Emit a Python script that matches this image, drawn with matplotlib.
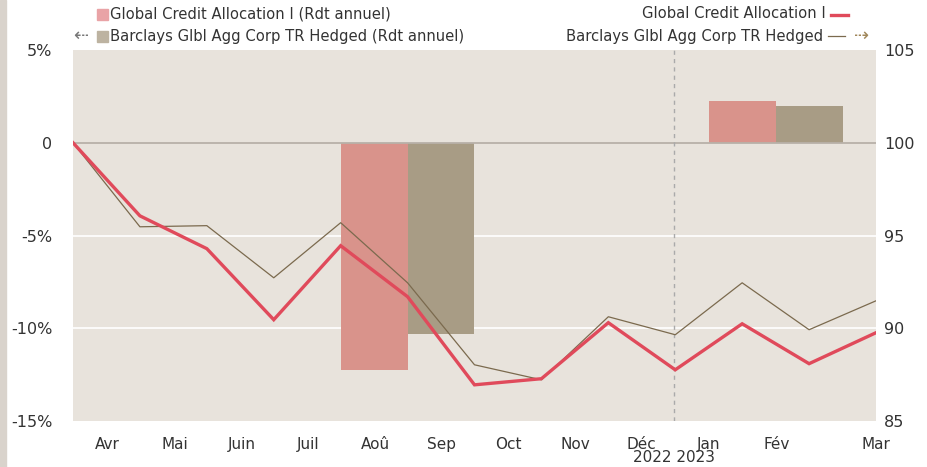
import matplotlib
matplotlib.use("Agg")
import matplotlib.pyplot as plt
from matplotlib.patches import Rectangle
from matplotlib.lines import Line2D

# ---------------- data ----------------
month_labels = ["Avr", "Mai", "Juin", "Juil", "Aoû", "Sep", "Oct", "Nov", "Déc", "Jan", "Fév", "Mar"]
month_label_pos = [0.52, 1.52, 2.52, 3.52, 4.52, 5.51, 6.51, 7.50, 8.50, 9.50, 10.51, 12.0]
year_labels = ["2022", "2023"]
year_boundary = 8.98

fund_name = "Global Credit Allocation I"
bench_name = "Barclays Glbl Agg Corp TR Hedged"

# monthly index (base 100), right axis
fund_index = [100, 96.06, 94.29, 90.46, 94.45, 91.70, 86.95, 87.28, 90.30, 87.76, 90.24, 88.09, 89.76]
bench_index = [100, 95.47, 95.53, 92.72, 95.69, 92.45, 88.03, 87.22, 90.62, 89.65, 92.45, 89.92, 91.48]

# annual returns (%), left axis
annual_period_pos = [4.5, 10.0]
fund_annual = [-12.25, 2.26]
bench_annual = [-10.3, 1.99]

# ---------------- style ----------------
BG = "#e8e3dc"
RED_LINE = "#e04a5b"
RED_BAR = "#d9938b"
BROWN_BAR = "#a89c85"
BROWN_LINE = "#7b6a4e"
TXT = "#333333"

W, H = 927, 467
fig = plt.figure(figsize=(W / 100, H / 100), dpi=100)
fig.patch.set_facecolor("white")

def fx(px):
    return px / W

def fy(py):
    return 1 - py / H

L, R, T, B = 73, 876, 50, 421
ax = fig.add_axes([fx(L), fy(B), fx(R) - fx(L), fy(T) - fy(B)])
ax.set_facecolor(BG)
ax.set_xlim(0, 12)
ax.set_ylim(-15, 5)
for s in ax.spines.values():
    s.set_visible(False)

# grid
for g in [-5, -10]:
    ax.axhline(g, color="white", lw=1.2, zorder=1)

# bars
bw = 1.0
ax.bar([p - bw / 2 for p in annual_period_pos], fund_annual, width=bw, align="edge",
       color=RED_BAR, zorder=2)
ax.bar([p + bw / 2 for p in annual_period_pos], bench_annual, width=bw, align="edge",
       color=BROWN_BAR, zorder=2)

ax.axhline(0, color="#b8b1a8", lw=1.3, zorder=3)
ax.axvline(year_boundary, color="#aaaaaa", lw=1.0, ls=(0, (3, 3)), zorder=3)

ax.set_yticks([5, 0, -5, -10, -15])
ax.set_yticklabels(["5%", "0", "-5%", "-10%", "-15%"])
ax.tick_params(axis="y", length=0, pad=15, labelsize=11.5, labelcolor=TXT)

ax.set_xticks(month_label_pos)
ax.set_xticklabels(month_labels, fontsize=11, color=TXT)
ax.tick_params(axis="x", length=0, pad=11.5)

# year labels
yl = (B - 458) / (B - T)
ax.text(year_boundary, yl, " ".join(year_labels), transform=ax.get_xaxis_transform(),
        ha="center", va="center", fontsize=11, color=TXT)

# lines on right axis
ax2 = ax.twinx()
ax2.set_ylim(85, 105)
ax2.patch.set_visible(False)
for s in ax2.spines.values():
    s.set_visible(False)
x = list(range(len(fund_index)))
ax2.plot(x, bench_index, color=BROWN_LINE, lw=0.9, zorder=4)
ax2.plot(x, fund_index, color=RED_LINE, lw=2.4, zorder=5, solid_joinstyle="miter")
ax2.set_yticks([105, 100, 95, 90, 85])
ax2.tick_params(axis="y", length=0, pad=6, labelsize=11.5, labelcolor=TXT)
ax2.set_xlim(0, 12)

# left strip
fig.patches.append(Rectangle((0, 0), fx(6), 1, transform=fig.transFigure,
                             color="#d9d3cc", zorder=0))

# ---------------- legend ----------------
fs = 10.6
# left legend
fig.patches.append(Rectangle((fx(97), fy(20)), fx(11), 11 / H, transform=fig.transFigure,
                             color="#e9a3a6"))
fig.text(fx(110), fy(14), fund_name + " (Rdt annuel)", ha="left", va="center",
         fontsize=fs, color=TXT)
fig.patches.append(Rectangle((fx(97), fy(42)), fx(11), 11 / H, transform=fig.transFigure,
                             color="#bdb3a1"))
fig.text(fx(110), fy(36), bench_name + " (Rdt annuel)", ha="left", va="center",
         fontsize=fs, color=TXT)
fig.text(fx(81), fy(36), "⇠", ha="center", va="center", fontsize=13, color="#777777")

# right legend
fig.text(fx(826), fy(14), fund_name, ha="right", va="center", fontsize=fs, color=TXT)
fig.lines.append(Line2D([fx(831), fx(848)], [fy(15), fy(15)], transform=fig.transFigure,
                        color=RED_LINE, lw=2.4))
fig.text(fx(823), fy(36), bench_name, ha="right", va="center", fontsize=fs, color=TXT)
fig.lines.append(Line2D([fx(828), fx(845)], [fy(36), fy(36)], transform=fig.transFigure,
                        color=BROWN_LINE, lw=0.9))
fig.text(fx(862), fy(36), "⇢", ha="center", va="center", fontsize=13, color="#a0875a")

fig.savefig("out.png", dpi=100, facecolor="white")
